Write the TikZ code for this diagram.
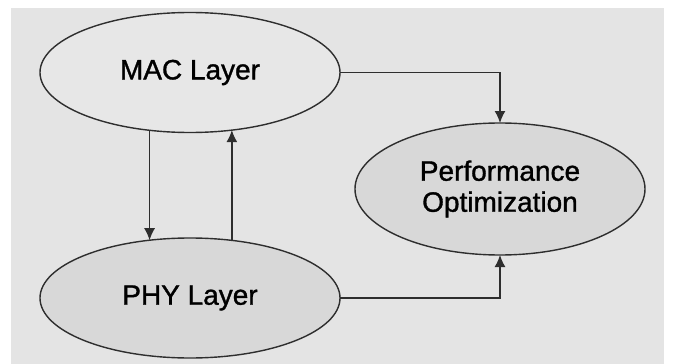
\documentclass[tikz,border=0pt]{standalone}
\usepackage{fontspec}
\setmainfont{Liberation Sans}
\newfontfamily\layerfont{Liberation Sans}[RawFeature={embolden=1.2}]
\usetikzlibrary{positioning,shapes.geometric,arrows.meta}

\definecolor{paper}{HTML}{E4E4E4}
\definecolor{layerfill}{HTML}{E7E7E7}
\definecolor{dotfill}{HTML}{D8D8D8}
\definecolor{ink}{HTML}{2E2E2E}

\begin{document}
\begin{tikzpicture}[x=1pt,y=-1pt,>={Latex[length=12pt,width=11pt]},line width=1.4pt,draw=ink,
    layer/.style={ellipse,draw=ink,inner sep=0pt,outer sep=0pt,align=center,
        minimum width=300pt,minimum height=120pt,font=\layerfont\fontsize{28}{31}\selectfont}]
        \useasboundingbox (0,0) rectangle (673,364);
        \fill[paper] (11,8) rectangle (664,364);
        \node[layer,fill=layerfill] (mac) at (190,72.5) {MAC Layer};
        \node[layer,fill=dotfill,below=105.5pt of mac] (phy) {PHY Layer};
        \node[layer,fill=dotfill,minimum width=290pt,minimum height=132pt] (perf) at (500,189) {Performance\\Optimization};
        \draw[->,ink] (mac.-125.4) -- (phy.125.4);
        \draw[->,ink] (phy.54.6) -- (mac.-54.6);
        \draw[->,ink] (mac.east) -| (perf.north);
        \draw[->,ink] (phy.east) -| (perf.south);
    \end{tikzpicture}
\end{document}
